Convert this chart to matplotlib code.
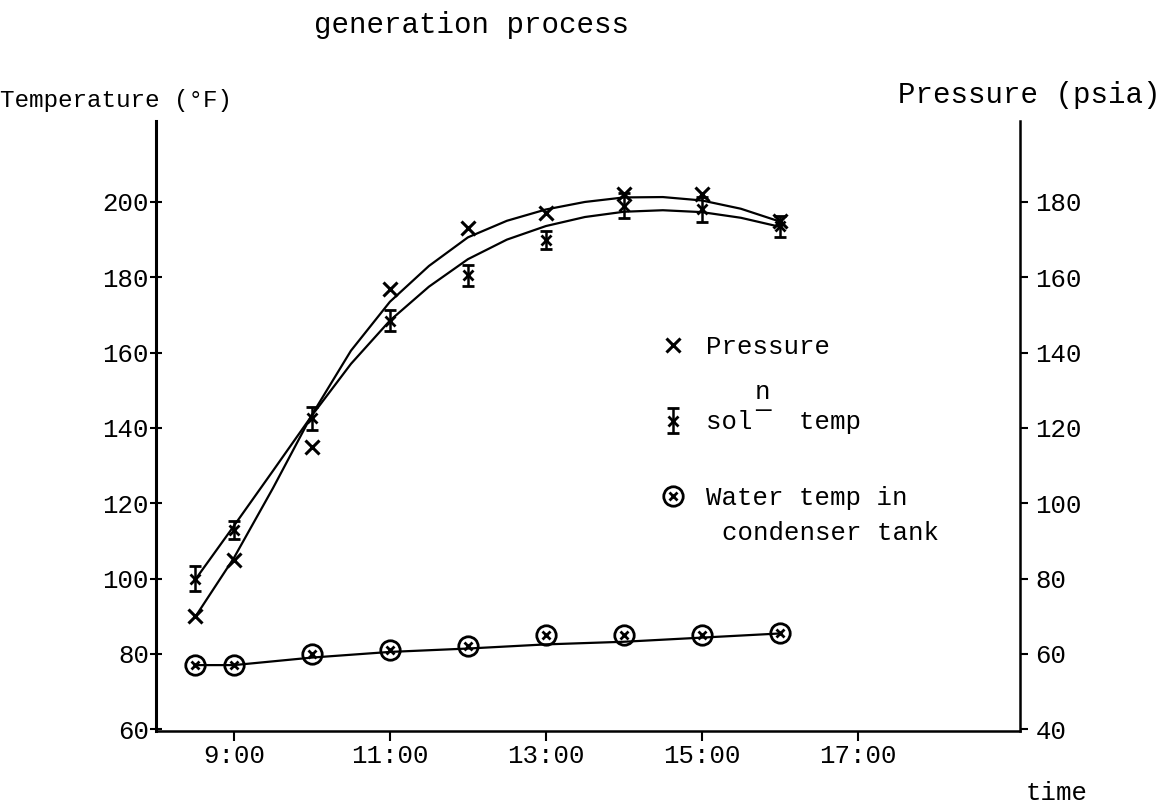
import matplotlib
matplotlib.use('Agg')
import matplotlib.pyplot as plt
from matplotlib.legend_handler import HandlerTuple

plt.rcParams['font.family'] = ['Liberation Mono', 'DejaVu Sans Mono']
FS = 18.5

# measured points (hour of day)
hours = [8.5, 9, 10, 11, 12, 13, 14, 15, 16]
pressure_psia = [70, 85, 115, 157, 173, 177, 182, 182, 175]
sol_temp = [100, 113, 142.5, 168.5, 180.5, 190, 199, 198, 193.5]
sol_err = [3.3, 2.4, 3.0, 2.7, 2.8, 2.4, 3.3, 3.2, 2.9]
water_temp = [77, 77, 80, 81, 82, 85, 85, 85, 85.5]

# hand drawn curves
curve_hours = [8.5, 9, 9.5, 10, 10.5, 11, 11.5, 12, 12.5, 13, 13.5, 14, 14.5, 15, 15.5, 16]
pressure_curve = [69.7, 85.5, 104, 123.5, 140.5, 153.5, 163.0, 170.6, 175.0, 178.0,
                  180.0, 181.2, 181.3, 180.4, 178.2, 174.8]
sol_curve = [99.6, 114, 128.6, 143.3, 157, 168.5, 177.5, 184.8, 190.0, 193.6,
             196.0, 197.4, 197.8, 197.3, 195.8, 193.4]
water_hours = [8.5, 9, 10, 11, 12, 13, 14, 15, 16]
water_curve = [77, 77, 79, 80.5, 81.4, 82.5, 83.2, 84.3, 85.4]

x_ticks = [9, 11, 13, 15, 17]
x_labels = ['9:00', '11:00', '13:00', '15:00', '17:00']
temp_ticks = [60, 80, 100, 120, 140, 160, 180, 200]
press_ticks = [40, 60, 80, 100, 120, 140, 160, 180]

fig = plt.figure(figsize=(11.7, 8.05), dpi=100)
ax = fig.add_axes([156/1170, 74/805, 864/1170, 610/805])
ax2 = ax.twinx()

ax.plot(curve_hours, sol_curve, color='black', lw=1.6)
ax.plot(water_hours, water_curve, color='black', lw=1.6)
ax2.plot(curve_hours, pressure_curve, color='black', lw=1.6)

eb = ax.errorbar(hours, sol_temp, yerr=sol_err, fmt='x', color='black', ms=7, mew=2,
                 elinewidth=1.8, capsize=4, capthick=1.8)
water_o, = ax.plot(hours, water_temp, 'o', mfc='none', mec='black', ms=14, mew=2)
water_x, = ax.plot(hours, water_temp, 'x', color='black', ms=6, mew=2)
p_x, = ax2.plot(hours, pressure_psia, 'x', color='black', ms=10, mew=2.2)

ax.set_xlim(8, 19.08)
ax.set_ylim(59.5, 221.5)
ax2.set_ylim(39.5, 201.5)

ax.set_xticks(x_ticks)
ax.set_xticklabels(x_labels)
ax.set_yticks(temp_ticks)
ax2.set_yticks(press_ticks)

ax.tick_params(axis='y', direction='inout', length=8, width=1.5, labelsize=FS, pad=1)
ax.tick_params(axis='x', direction='out', length=7, width=1.5, labelsize=FS, pad=2)
ax2.tick_params(axis='y', direction='out', length=6, width=1.5, labelsize=FS, pad=5)

for a in (ax, ax2):
    a.spines['top'].set_visible(False)
ax.spines['right'].set_visible(False)
ax2.spines['left'].set_visible(False)
ax2.spines['bottom'].set_visible(False)
ax.spines['left'].set_linewidth(2.2)
ax.spines['bottom'].set_linewidth(1.8)
ax2.spines['right'].set_linewidth(1.8)

leg = ax2.legend([p_x, eb, (water_o, water_x)], ['Pressure', 'sol   temp', 'Water temp in'],
                 handler_map={tuple: HandlerTuple(ndivide=1)},
                 loc='upper left', bbox_to_anchor=(0.583, 0.649), bbox_transform=ax.transAxes,
                 frameon=False, borderpad=0, borderaxespad=0, handlelength=1.0,
                 handletextpad=0.8, labelspacing=2.0, prop={'size': FS})

ax.text(15.26, 112.0, 'condenser tank', ha='left', va='center', fontsize=FS)
# superscript n with its underline, typed above "sol"
ax.text(15.78, 147.2, 'n\n\u2014', ha='center', va='center', fontsize=FS, linespacing=0.7)

fig.text(472/1170, 1 - 25/805, 'generation process', ha='center', va='center', fontsize=21)
fig.text(0.0, 1 - 100/805, 'Temperature (\u00b0F)', ha='left', va='center', fontsize=17.5)
fig.text(1160/1170, 1 - 95/805, 'Pressure (psia)', ha='right', va='center', fontsize=21)
fig.text(1057/1170, 1 - 793/805, 'time', ha='center', va='center', fontsize=FS)

fig.savefig('out.png', dpi=100)
